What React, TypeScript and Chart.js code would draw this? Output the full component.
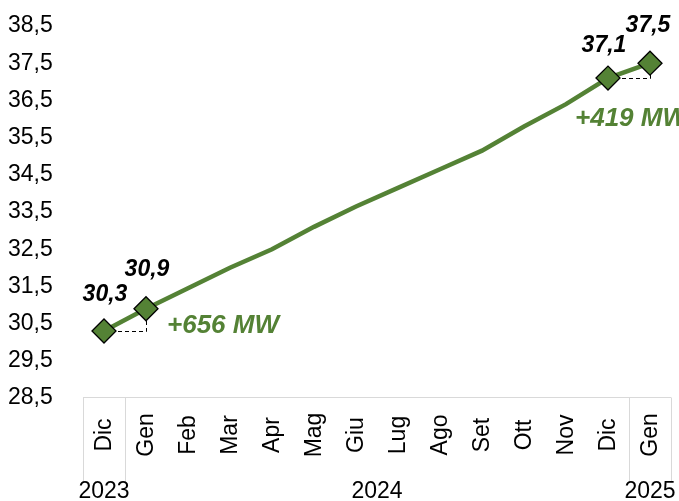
import React, { useEffect, useRef } from 'react';
import { Chart, registerables } from 'chart.js';

Chart.register(...registerables);

// ---- data ----
const months = ['Dic', 'Gen', 'Feb', 'Mar', 'Apr', 'Mag', 'Giu', 'Lug', 'Ago', 'Set', 'Ott', 'Nov', 'Dic', 'Gen'];
const years = ['2023', '2024', '2025'];
const yearSpans = [1, 12, 1];
const capacityGW = [30.3, 30.9, 31.45, 32.0, 32.5, 33.1, 33.65, 34.15, 34.65, 35.15, 35.8, 36.4, 37.1, 37.5];
const markedIdx = [0, 1, 12, 13];
const deltaPairs = [[0, 1], [12, 13]];
const deltaLabels = ['+656 MW', '+419 MW'];
const yTicks = [28.5, 29.5, 30.5, 31.5, 32.5, 33.5, 34.5, 35.5, 36.5, 37.5, 38.5];

const GREEN = '#548235';
const FONT = '"Liberation Sans", Arial, sans-serif';
const fmt = (v: number) => v.toFixed(1).replace('.', ',');

const customPlugin = {
  id: 'custom',
  beforeDatasetsDraw(chart: any) {
    const ctx = chart.ctx;
    const pts = chart.getDatasetMeta(0).data;
    ctx.save();
    ctx.strokeStyle = '#000';
    ctx.lineWidth = 1;
    ctx.setLineDash([4, 3]);
    deltaPairs.forEach(([a, b]) => {
      const pa = pts[a];
      const pb = pts[b];
      ctx.beginPath();
      ctx.moveTo(pa.x, Math.round(pa.y) + 0.5);
      ctx.lineTo(Math.round(pb.x) + 0.5, Math.round(pa.y) + 0.5);
      ctx.lineTo(Math.round(pb.x) + 0.5, pb.y);
      ctx.stroke();
    });
    ctx.restore();
  },
  afterDatasetsDraw(chart: any) {
    const ctx = chart.ctx;
    const pts = chart.getDatasetMeta(0).data;
    ctx.save();
    // value labels
    ctx.fillStyle = '#000';
    ctx.font = `italic bold 23px ${FONT}`;
    ctx.textAlign = 'center';
    ctx.textBaseline = 'middle';
    const lab = [
      [1, -36],
      [1, -39],
      [-4, -32],
      [-2, -38],
    ];
    markedIdx.forEach((i, k) => {
      const p = pts[i];
      ctx.fillText(fmt(capacityGW[i]), p.x + lab[k][0], p.y + lab[k][1]);
    });
    // delta labels
    ctx.fillStyle = GREEN;
    ctx.font = `italic bold 26px ${FONT}`;
    ctx.textAlign = 'left';
    const offs = [
      [21, -5],
      [-33, 41],
    ];
    deltaPairs.forEach(([a, b], k) => {
      const pa = pts[a];
      const pb = pts[b];
      const x = k === 0 ? pb.x + offs[k][0] : pa.x + offs[k][0];
      ctx.fillText(deltaLabels[k], x, pa.y + offs[k][1]);
    });
    ctx.restore();
  },
  afterDraw(chart: any) {
    const ctx = chart.ctx;
    const xs = chart.scales.x;
    const area = chart.chartArea;
    const w = (area.right - area.left) / months.length;
    const top = Math.round(area.bottom) - 0.5;
    ctx.save();
    ctx.strokeStyle = '#d9d9d9';
    ctx.lineWidth = 1;
    ctx.beginPath();
    ctx.moveTo(area.left, top);
    ctx.lineTo(area.right, top);
    ctx.stroke();
    // group separators
    let start = 0;
    const bounds: number[] = [0];
    yearSpans.forEach((s) => {
      start += s;
      bounds.push(start);
    });
    bounds.forEach((b) => {
      const x = Math.round(xs.getPixelForValue(b) - w / 2) + 0.5;
      ctx.beginPath();
      ctx.moveTo(x, top);
      ctx.lineTo(x, top + 85);
      ctx.stroke();
    });
    // month labels
    ctx.fillStyle = '#000';
    ctx.font = `23px ${FONT}`;
    ctx.textAlign = 'center';
    ctx.textBaseline = 'middle';
    months.forEach((m, i) => {
      const x = xs.getPixelForValue(i);
      ctx.save();
      ctx.translate(x + 1, area.bottom + 37);
      ctx.rotate(-Math.PI / 2);
      ctx.fillText(m, 0, 0);
      ctx.restore();
    });
    // year labels
    ctx.textBaseline = 'alphabetic';
    let s0 = 0;
    yearSpans.forEach((s, k) => {
      const x1 = xs.getPixelForValue(s0) - w / 2;
      const x2 = xs.getPixelForValue(s0 + s - 1) + w / 2;
      ctx.fillText(years[k], (x1 + x2) / 2, area.bottom + 100);
      s0 += s;
    });
    ctx.restore();
  },
};

export default function App() {
  const ref = useRef<HTMLCanvasElement | null>(null);
  useEffect(() => {
    if (!ref.current) return;
    Chart.defaults.font.family = FONT;
    const chart = new Chart(ref.current, {
      type: 'line',
      data: {
        labels: months,
        datasets: [
          {
            data: capacityGW,
            borderColor: GREEN,
            borderWidth: 4.5,
            tension: 0,
            backgroundColor: GREEN,
            pointStyle: 'rectRot',
            pointRadius: capacityGW.map((_, i) => (markedIdx.includes(i) ? 12 : 0)),
            pointBackgroundColor: GREEN,
            pointBorderColor: '#000',
            pointBorderWidth: 1.3,
            clip: false as any,
          },
        ],
      },
      options: {
        animation: false,
        responsive: true,
        maintainAspectRatio: false,
        events: [],
        layout: { autoPadding: false, padding: { top: 26, right: 8, left: 8, bottom: 0 } },
        plugins: { legend: { display: false }, tooltip: { enabled: false } },
        scales: {
          x: {
            type: 'category',
            offset: true,
            grid: { display: false },
            border: { display: false },
            ticks: { display: false },
            afterFit: (s: any) => {
              s.height = 103;
            },
          },
          y: {
            min: 28.5,
            max: 38.5,
            grid: { display: false, drawTicks: false },
            border: { display: false },
            afterBuildTicks: (axis: any) => {
              axis.ticks = yTicks.map((v) => ({ value: v }));
            },
            afterFit: (s: any) => {
              s.width = 75;
            },
            ticks: {
              padding: 0,
              crossAlign: 'far',
              color: '#000',
              font: { size: 23, family: FONT },
              callback: (v: any) => fmt(Number(v)),
            },
          },
        },
      },
      plugins: [customPlugin],
    });
    return () => chart.destroy();
  }, []);
  return (
    <div style={{ position: 'fixed', left: 0, top: 0, width: 679, height: 501, background: '#fff' }}>
      <canvas ref={ref} />
    </div>
  );
}
